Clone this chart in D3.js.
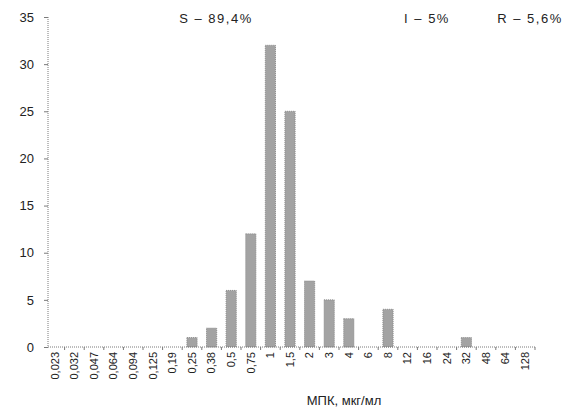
<!DOCTYPE html>
<html>
<head>
<meta charset="utf-8">
<script src="https://cdn.jsdelivr.net/npm/d3@7"></script>
<style>
  html, body { margin: 0; padding: 0; background: #fff; }
  svg { display: block; font-family: "Liberation Sans", Arial, sans-serif; }
</style>
</head>
<body>
<svg id="chart" width="570" height="413"></svg>
<script>
// MIC dilution steps (mg/L) and number of isolates per step
const micLabels = ["0,023", "0,032", "0,047", "0,064", "0,094", "0,125", "0,19", "0,25", "0,38", "0,5",
                   "0,75", "1", "1,5", "2", "3", "4", "6", "8", "12", "16", "24", "32", "48", "64", "128"];
const isolateCounts = [0, 0, 0, 0, 0, 0, 0, 1, 2, 6, 12, 32, 25, 7, 5, 3, 0, 4, 0, 0, 0, 1, 0, 0, 0];
const yTicks = [0, 5, 10, 15, 20, 25, 30, 35];
const categoryTexts = ["S – 89,4%", "I – 5%", "R – 5,6%"];
const axisTitle = "МПК, мкг/мл";

const svg = d3.select("#chart");

const x = d3.scaleBand().domain(micLabels).range([45, 535]).paddingInner(0.48).paddingOuter(0.24);
const y = d3.scaleLinear().domain([0, 35]).range([347, 17]);

const axisColor = "#7a7a7a";
const xAxisStart = 48;

// bars
svg.append("g").selectAll("rect")
  .data(micLabels.map((m, i) => ({ m, v: isolateCounts[i] })).filter(d => d.v > 0))
  .join("rect")
  .attr("x", d => x(d.m))
  .attr("y", d => y(d.v))
  .attr("width", x.bandwidth())
  .attr("height", d => y(0) - y(d.v))
  .attr("fill", "#a3a3a3")
  .attr("stroke", "#8a8a8a")
  .attr("stroke-width", 1)
  .attr("stroke-dasharray", "1,1");

// y axis
const yAxis = svg.append("g").attr("transform", `translate(${xAxisStart},0)`)
  .call(d3.axisLeft(y).tickValues(yTicks).tickSize(4).tickPadding(10).tickFormat(d3.format("d")));
yAxis.select(".domain").attr("stroke", axisColor).attr("stroke-dasharray", "1,1").attr("d", `M0,${y(35)}V${y(0)}`);
yAxis.selectAll(".tick line").attr("stroke", axisColor);
yAxis.selectAll(".tick text").attr("font-size", 13).attr("fill", "#222")
  .attr("font-family", "'Liberation Sans', Arial, sans-serif");

// x axis
const xAxis = svg.append("g").attr("transform", `translate(0,${y(0)})`)
  .call(d3.axisBottom(x).tickSize(0).tickPadding(0));
xAxis.select(".domain").attr("stroke", axisColor).attr("stroke-dasharray", "1,1")
  .attr("d", `M${xAxisStart},0H535`);
xAxis.selectAll(".tick text")
  .attr("font-size", 11)
  .attr("fill", "#222")
  .attr("font-family", "'Liberation Sans', Arial, sans-serif")
  .attr("text-anchor", "end")
  .attr("transform", "rotate(-90)")
  .attr("x", -5)
  .attr("y", 0)
  .attr("dy", "0.35em");

// small marks between categories
svg.append("g").selectAll("line")
  .data(micLabels)
  .join("line")
  .attr("x1", d => x(d) + x.bandwidth() + x.step() * x.paddingInner() / 2)
  .attr("x2", d => x(d) + x.bandwidth() + x.step() * x.paddingInner() / 2)
  .attr("y1", y(0))
  .attr("y2", y(0) + 3)
  .attr("stroke", axisColor);

// category share texts
const shareX = [216, 427, 530];
svg.append("g").selectAll("text")
  .data(categoryTexts)
  .join("text")
  .attr("x", (d, i) => shareX[i])
  .attr("y", 23)
  .attr("text-anchor", "middle")
  .attr("font-size", 13)
  .attr("letter-spacing", 1.5)
  .attr("fill", "#222")
  .text(d => d);

// axis title
svg.append("text")
  .attr("x", 344)
  .attr("y", 405)
  .attr("text-anchor", "middle")
  .attr("font-size", 13)
  .attr("fill", "#222")
  .text(axisTitle);
</script>
</body>
</html>
